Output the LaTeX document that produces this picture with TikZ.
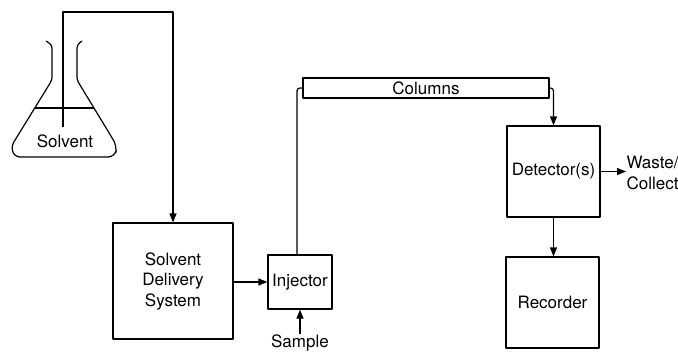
\documentclass[tikz,border=0pt]{standalone}
\usepackage{fontspec}
\setmainfont{TeX Gyre Heros}
\usetikzlibrary{arrows.meta}
\begin{document}
\begin{tikzpicture}[x=1pt,y=-1pt,
  line width=1.2pt, line join=round,
  font=\fontsize{17}{20.5}\selectfont,
  box/.style={draw, inner sep=0pt, align=center},
  arr/.style={-{Triangle[length=9pt,width=7pt]}},
  lbl/.style={inner sep=0pt, align=center}]
\useasboundingbox (0,0) rectangle (678,354);
% flask
\draw[rounded corners=3pt] (46,41) -- (52,45) -- (52,80) -- (12,145) [rounded corners=7pt] -- (13,157) -- (115,157) -- (117,146) [rounded corners=3pt] -- (77,80) -- (77,45) -- (82,41);
\draw (35,108) -- (94,108);
\node[lbl] (solvent) at (65,141) {Solvent};
% boxes
\node[box, minimum width=120pt, minimum height=116pt] (sds) at (173,281) {Solvent\\Delivery\\System};
\node[box, minimum width=64pt, minimum height=54pt] (inj) at (300,282) {Injector};
\node[box, minimum width=246pt, minimum height=20pt] (col) at (426,88) {Columns};
\node[box, minimum width=93pt, minimum height=91pt] (det) at (553.5,171.5) {Detector(s)};
\node[box, minimum width=93pt, minimum height=91pt] (rec) at (552.5,302.5) {Recorder};
\node[lbl] (sample) at (300,343) {Sample};
\node[lbl, anchor=west, align=left] (waste) at (626,173) {Waste/\\Collect};
% connectors
\coordinate (tube) at (63,127);
\draw[arr] (tube) -- (63,12) -| (sds.north);
\draw[arr] (sds.east |- inj.west) -- (inj.west);
\draw[arr] (sample.north) -- (inj.south);
\draw[rounded corners=3pt] ([xshift=-3pt]inj.north) |- (col.west);
\draw[arr, rounded corners=3pt] (col.east) -| (det.north);
\draw[arr] (det.east) -- (waste.west |- det.east);
\draw[arr] (det.south) -- (det.south |- rec.north);
\end{tikzpicture}
\end{document}
